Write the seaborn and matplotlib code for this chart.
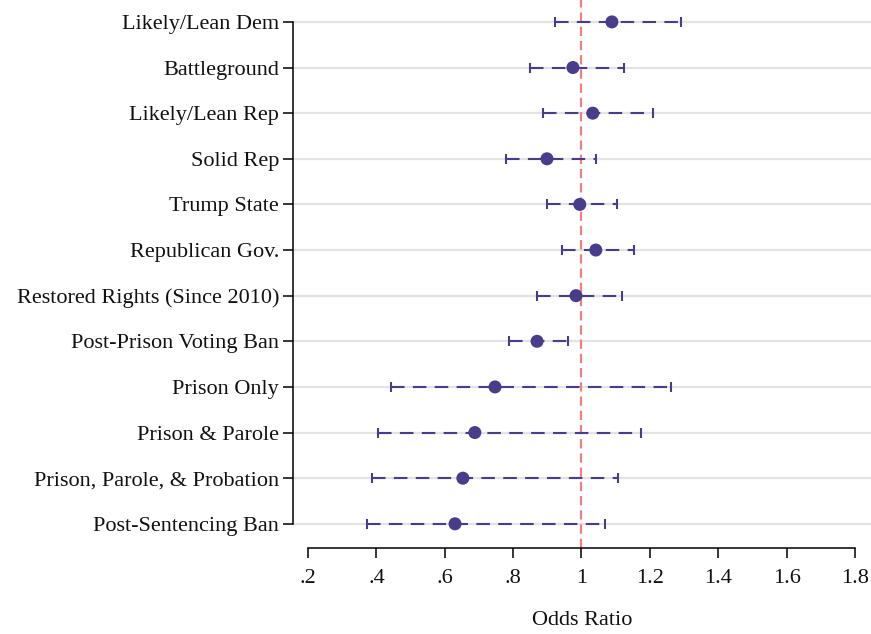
import matplotlib
matplotlib.use("Agg")
import matplotlib.pyplot as plt
import seaborn as sns
import numpy as np
import pandas as pd

# Odds ratios with 95% confidence intervals
categories = [
    "Likely/Lean Dem", "Battleground", "Likely/Lean Rep", "Solid Rep",
    "Trump State", "Republican Gov.", "Restored Rights (Since 2010)",
    "Post-Prison Voting Ban", "Prison Only", "Prison & Parole",
    "Prison, Parole, & Probation", "Post-Sentencing Ban",
]
odds_ratio = [1.089, 0.975, 1.033, 0.899, 0.995, 1.042, 0.984, 0.870, 0.747, 0.688, 0.653, 0.630]
ci_low = [0.922, 0.849, 0.887, 0.779, 0.899, 0.943, 0.870, 0.788, 0.443, 0.405, 0.387, 0.372]
ci_high = [1.291, 1.124, 1.209, 1.042, 1.104, 1.153, 1.118, 0.960, 1.261, 1.174, 1.106, 1.068]

x_ticks = [0.2, 0.4, 0.6, 0.8, 1.0, 1.2, 1.4, 1.6, 1.8]
x_tick_labels = [".2", ".4", ".6", ".8", "1", "1.2", "1.4", "1.6", "1.8"]

df = pd.DataFrame({"category": categories, "or": odds_ratio, "lo": ci_low, "hi": ci_high})

sns.set_theme(style="white")
plt.rcParams["font.family"] = ["Liberation Serif", "DejaVu Serif"]

point_color = "#483D8B"
ref_color = "#F08080"
grid_color = "#E3E3E3"
text_color = "#111111"
fs = 16

fig = plt.figure(figsize=(8.71, 6.34), dpi=100)
ax = fig.add_axes([293 / 871, 86 / 634, 578 / 871, 548 / 634])

ypos = np.arange(len(categories))

# horizontal grid at each category
for y in ypos:
    ax.axhline(y, color=grid_color, lw=1.6, zorder=0)

# reference line at odds ratio 1
ax.axvline(1.0, color=ref_color, lw=1.6, ls=(0, (4.2, 2.2)), zorder=1)

# confidence intervals
eb = ax.errorbar(
    df["or"], ypos,
    xerr=[df["or"] - df["lo"], df["hi"] - df["or"]],
    fmt="none", ecolor=point_color, elinewidth=1.5, capsize=3.6, capthick=1.5, zorder=2,
)
eb[2][0].set_linestyle((0, (6.5, 4)))

# point estimates
sns.scatterplot(data=df, x="or", y=ypos, color=point_color, s=88, edgecolor="none",
                zorder=3, ax=ax, legend=False)

ax.set_xlim(0.156, 1.847)
ax.set_ylim(len(categories) - 1 + 0.53, -0.48)

ax.set_yticks(ypos)
ax.set_yticklabels(categories, fontsize=fs, color=text_color)
ax.set_xticks(x_ticks)
ax.set_xticklabels(x_tick_labels, fontsize=fs, color=text_color)

ax.set_xlabel("Odds Ratio", fontsize=fs, color=text_color, labelpad=17)
ax.set_ylabel("")

for side in ["top", "right"]:
    ax.spines[side].set_visible(False)
ax.spines["left"].set_bounds(0, len(categories) - 1)
ax.spines["bottom"].set_bounds(0.2, 1.8)
for side in ["left", "bottom"]:
    ax.spines[side].set_color("black")
    ax.spines[side].set_linewidth(1.1)

ax.tick_params(axis="y", which="major", left=True, length=7, width=1.1, pad=3, color="black")
ax.tick_params(axis="x", which="major", bottom=True, length=7, width=1.1, pad=8, color="black")
ax.grid(False)

fig.savefig("out.png", dpi=100)
